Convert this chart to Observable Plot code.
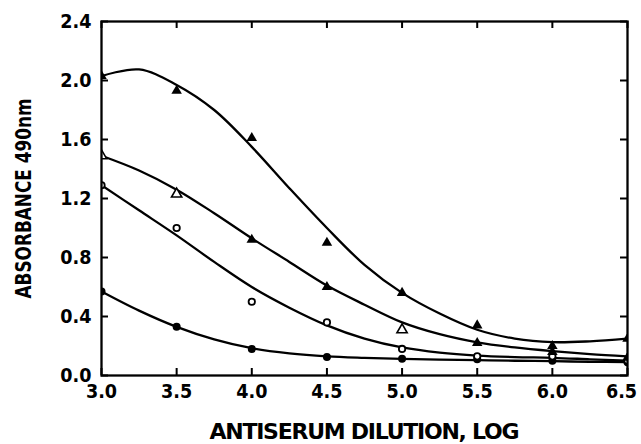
<!DOCTYPE html>
<html>
<head>
<meta charset="utf-8">
<script src="https://cdn.jsdelivr.net/npm/d3@7"></script>
<script src="https://cdn.jsdelivr.net/npm/@observablehq/plot@0.6"></script>
<style>
  html, body { margin: 0; padding: 0; background: #fff; }
</style>
</head>
<body>
<div id="chart"></div>
<script>
// ---- data ----
const xTicks = [3.0, 3.5, 4.0, 4.5, 5.0, 5.5, 6.0, 6.5];
const yTicks = [0.0, 0.4, 0.8, 1.2, 1.6, 2.0, 2.4];
const xTitle = "ANTISERUM DILUTION, LOG";
const yTitle = "ABSORBANCE 490nm";

// fitted curves, read every 0.25 log unit
const curveX = [3.0, 3.25, 3.5, 3.75, 4.0, 4.25, 4.5, 4.75, 5.0, 5.25, 5.5, 5.75, 6.0, 6.25, 6.5];
const curveA = [2.03, 2.075, 1.97, 1.80, 1.55, 1.27, 1.00, 0.75, 0.56, 0.42, 0.31, 0.25, 0.226, 0.232, 0.25];
const curveB = [1.49, 1.39, 1.26, 1.10, 0.93, 0.77, 0.61, 0.48, 0.36, 0.28, 0.225, 0.19, 0.165, 0.145, 0.13];
const curveC = [1.29, 1.12, 0.95, 0.77, 0.60, 0.46, 0.34, 0.25, 0.19, 0.155, 0.135, 0.125, 0.12, 0.11, 0.10];
const curveD = [0.57, 0.44, 0.33, 0.245, 0.185, 0.15, 0.13, 0.12, 0.113, 0.108, 0.104, 0.10, 0.097, 0.093, 0.09];

// measured points
const filledTriX = [3.0, 3.5, 4.0, 4.5, 5.0, 5.5, 6.0, 6.5, 4.0, 4.5, 5.5, 6.0, 6.5];
const filledTriY = [2.03, 1.93, 1.61, 0.90, 0.56, 0.34, 0.20, 0.25, 0.92, 0.60, 0.22, 0.16, 0.12];
const openTriX = [3.0, 3.5, 5.0];
const openTriY = [1.49, 1.23, 0.31];
const openCircX = [3.0, 3.5, 4.0, 4.5, 5.0, 5.5, 6.0, 6.5];
const openCircY = [1.29, 1.00, 0.50, 0.36, 0.18, 0.13, 0.13, 0.10];
const filledCircX = [3.0, 3.5, 4.0, 4.5, 5.0, 5.5, 6.0, 6.5];
const filledCircY = [0.57, 0.33, 0.18, 0.125, 0.113, 0.11, 0.10, 0.09];

// ---- build tables ----
const curves = [];
[["A", curveA], ["B", curveB], ["C", curveC], ["D", curveD]].forEach(([k, ys]) =>
  ys.forEach((y, i) => curves.push({series: k, x: curveX[i], y})));
const pts = (xs, ys) => xs.map((x, i) => ({x, y: ys[i]}));

const W = 641, H = 444;
const mL = 101, mR = 14, mT = 21, mB = 69;
const plotH = H - mT - mB, plotW = W - mL - mR;
const tk = 7;

const chart = Plot.plot({
  width: W,
  height: H,
  marginLeft: mL,
  marginRight: mR,
  marginTop: mT,
  marginBottom: mB,
  style: {
    fontFamily: "'DejaVu Sans', sans-serif",
    fontWeight: "bold",
    fontSize: "20px",
    color: "black",
    background: "white",
    overflow: "visible"
  },
  x: {domain: [3.0, 6.5]},
  y: {domain: [0, 2.4]},
  marks: [
    Plot.line(curves, {x: "x", y: "y", z: "series", curve: "catmull-rom", stroke: "black", strokeWidth: 2.3, clip: true}),
    Plot.dot(pts(filledCircX, filledCircY), {x: "x", y: "y", r: 4, fill: "black", clip: true}),
    Plot.dot(pts(openCircX, openCircY), {x: "x", y: "y", r: 3.2, fill: "white", stroke: "black", strokeWidth: 1.8, clip: true}),
    Plot.dot(pts(openTriX, openTriY), {x: "x", y: "y", symbol: "triangle", r: 3.8, fill: "white", stroke: "black", strokeWidth: 1.6, clip: true}),
    Plot.dot(pts(filledTriX, filledTriY), {x: "x", y: "y", symbol: "triangle", r: 3.9, fill: "black", clip: true}),
    // inward ticks on all four sides
    Plot.tickX(xTicks, {x: d => d, insetTop: plotH - tk, stroke: "black", strokeWidth: 2}),
    Plot.tickX(xTicks, {x: d => d, insetBottom: plotH - tk, stroke: "black", strokeWidth: 2}),
    Plot.tickY(yTicks, {y: d => d, insetRight: plotW - tk, stroke: "black", strokeWidth: 2}),
    Plot.tickY(yTicks, {y: d => d, insetLeft: plotW - tk, stroke: "black", strokeWidth: 2}),
    Plot.frame({stroke: "black", strokeWidth: 2.3}),
    Plot.axisX(xTicks, {anchor: "bottom", tickSize: 0, tickPadding: 8, label: null, tickFormat: d => d.toFixed(1)}),
    Plot.axisY(yTicks, {anchor: "left", tickSize: 0, tickPadding: 10, label: null, tickFormat: d => d.toFixed(1)}),
    Plot.text([xTitle], {frameAnchor: "bottom", dy: 56, lineAnchor: "middle", textAnchor: "middle", text: d => d, fill: "black", fontSize: 22}),
    Plot.text([yTitle], {frameAnchor: "left", dx: -78, rotate: -90, lineAnchor: "middle", textAnchor: "middle", text: d => d, fill: "black", fontSize: 22})
  ]
});
document.getElementById("chart").appendChild(chart);

// condense the lettering like the reference's narrow typeface
const lastX = xTicks[xTicks.length - 1].toFixed(1);
chart.querySelectorAll("text").forEach(t => {
  const s = t.textContent;
  const len = t.getComputedTextLength();
  let target;
  if (s === xTitle) { target = 310; t.setAttribute("lengthAdjust", "spacing"); }
  else if (s === yTitle) { target = 200; t.setAttribute("lengthAdjust", "spacingAndGlyphs"); }
  else { target = len * 0.88; t.setAttribute("lengthAdjust", "spacingAndGlyphs"); }
  t.setAttribute("textLength", target);
  // keep the rightmost x tick label inside the picture
  if (s === lastX && t.closest('g[aria-label^="x-axis"]')) {
    t.setAttribute("text-anchor", "end");
    t.setAttribute("dx", (target / 2 + 0) - 6);
  }
});
</script>
</body>
</html>
